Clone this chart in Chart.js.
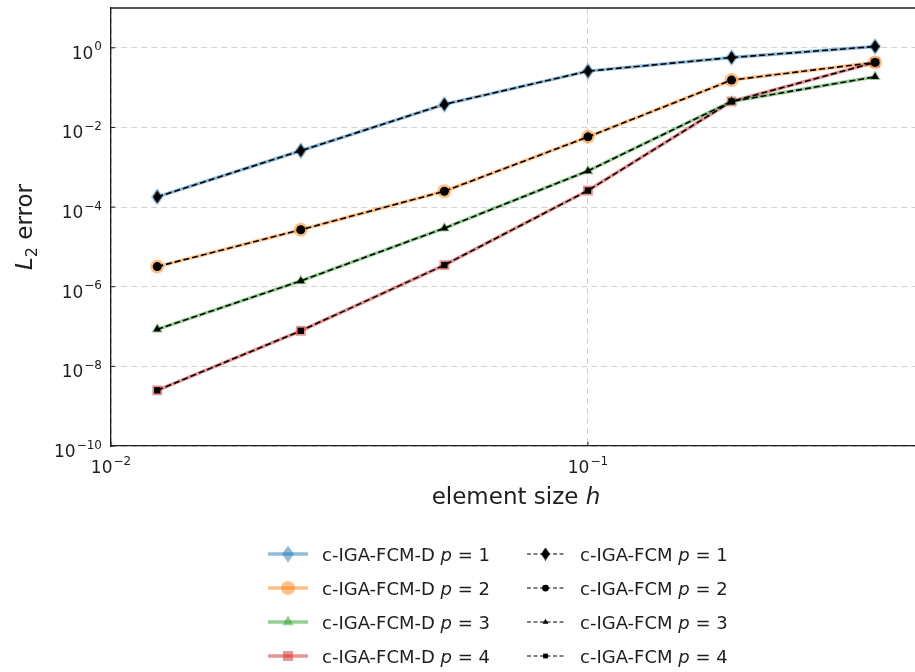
<!DOCTYPE html>
<html>
<head>
<meta charset="utf-8">
<script src="https://cdn.jsdelivr.net/npm/chart.js@4"></script>
<style>
  body { margin: 0; background: #fff; }
  #wrap { width: 915px; height: 672px; position: relative; }
</style>
</head>
<body>
<div id="wrap"><canvas id="chart"></canvas></div>
<script>
// element sizes h
const hVals = [0.0125, 0.025, 0.05, 0.1, 0.2, 0.4];

// c-IGA-FCM-D errors
const errD1 = [1.8e-4, 2.6e-3, 3.8e-2, 0.26, 0.57, 1.08];
const errD2 = [3.2e-6, 2.7e-5, 2.5e-4, 5.8e-3, 0.155, 0.43];
const errD3 = [8.5e-8, 1.4e-6, 2.95e-5, 8.1e-4, 0.045, 0.187];
const errD4 = [2.5e-9, 7.8e-8, 3.5e-6, 2.6e-4, 0.045, 0.43];

// c-IGA-FCM errors
const errC1 = [1.8e-4, 2.6e-3, 3.8e-2, 0.26, 0.57, 1.08];
const errC2 = [3.2e-6, 2.7e-5, 2.5e-4, 5.8e-3, 0.155, 0.43];
const errC3 = [8.5e-8, 1.4e-6, 2.95e-5, 8.1e-4, 0.045, 0.187];
const errC4 = [2.5e-9, 7.8e-8, 3.5e-6, 2.6e-4, 0.045, 0.43];

const degrees = [1, 2, 3, 4];
const xTickExps = [-2, -1];
const yTickExps = [-10, -8, -6, -4, -2, 0];

const FONT = "'DejaVu Sans', sans-serif";
const INK = "#1e1e1e";
const colors = ["31,119,180", "255,127,14", "44,160,44", "214,39,40"];

function thinDiamond(w, h, color) {
    const c = document.createElement("canvas");
    c.width = w; c.height = h;
    const g = c.getContext("2d");
    g.fillStyle = color;
    g.beginPath();
    g.moveTo(w / 2, 0); g.lineTo(w, h / 2); g.lineTo(w / 2, h); g.lineTo(0, h / 2);
    g.closePath();
    g.fill();
    return c;
}

const dStyles = [thinDiamond(12, 17, "rgba(31,119,180,0.5)"), "circle", "triangle", "rect"];
const cStyles = [thinDiamond(9, 13, "#000"), "circle", "triangle", "rect"];
const dRadius = [6, 7, 6.5, 7];
const cRadius = [5, 4.5, 4.5, 4.5];

const toPts = ys => hVals.map((x, i) => ({ x: x, y: ys[i] }));
const dSeries = [errD1, errD2, errD3, errD4];
const cSeries = [errC1, errC2, errC3, errC4];

const datasets = [];
dSeries.forEach((ys, i) => {
    const col = "rgba(" + colors[i] + ",0.5)";
    datasets.push({
        label: "c-IGA-FCM-D p=" + degrees[i],
        data: toPts(ys),
        borderColor: col,
        backgroundColor: col,
        borderWidth: 3.5,
        pointStyle: dStyles[i],
        pointRadius: dRadius[i],
        pointBackgroundColor: col,
        pointBorderWidth: 0,
        order: 1
    });
});
cSeries.forEach((ys, i) => {
    datasets.push({
        label: "c-IGA-FCM p=" + degrees[i],
        data: toPts(ys),
        borderColor: "#000",
        backgroundColor: "#000",
        borderWidth: 1.6,
        borderDash: [6, 3],
        pointStyle: cStyles[i],
        pointRadius: cRadius[i],
        pointBackgroundColor: "#000",
        pointBorderWidth: 0,
        order: 0
    });
});

// "10" with a raised exponent
function drawPow(ctx, exp, x, y, align) {
    const base = "10", sup = (exp < 0 ? "\u2212" : "") + Math.abs(exp);
    ctx.font = "17px " + FONT;
    const wb = ctx.measureText(base).width;
    ctx.font = "12px " + FONT;
    const ws = ctx.measureText(sup).width;
    const total = wb + ws + 1;
    let x0 = align === "right" ? x - total : x - total / 2;
    ctx.textAlign = "left";
    ctx.textBaseline = "alphabetic";
    ctx.font = "17px " + FONT;
    ctx.fillText(base, x0, y);
    ctx.font = "12px " + FONT;
    ctx.fillText(sup, x0 + wb + 1, y - 8.5);
}

// sequence of text pieces on one baseline (italic / subscript)
function drawRich(ctx, parts, x, y, size) {
    let cx = x;
    ctx.textAlign = "left";
    ctx.textBaseline = "alphabetic";
    parts.forEach(p => {
        const sz = p.sub ? size * 0.7 : size;
        ctx.font = (p.it ? "italic " : "") + sz + "px " + FONT;
        ctx.fillText(p.t, cx, y + (p.sub ? size * 0.22 : 0));
        cx += ctx.measureText(p.t).width;
    });
    return cx - x;
}
function richWidth(ctx, parts, size) {
    let w = 0;
    parts.forEach(p => {
        const sz = p.sub ? size * 0.7 : size;
        ctx.font = (p.it ? "italic " : "") + sz + "px " + FONT;
        w += ctx.measureText(p.t).width;
    });
    return w;
}

const decor = {
    id: "decor",
    afterDraw(chart) {
        const ctx = chart.ctx, a = chart.chartArea;
        const xs = chart.scales.x, ys = chart.scales.y;
        ctx.save();
        ctx.fillStyle = INK;
        ctx.strokeStyle = INK;

        // top spine
        ctx.lineWidth = 1.3;
        ctx.beginPath(); ctx.moveTo(a.left, a.top); ctx.lineTo(a.right, a.top); ctx.stroke();

        // inward ticks and labels
        ctx.lineWidth = 1;
        yTickExps.forEach(e => {
            const py = ys.getPixelForValue(Math.pow(10, e));
            ctx.beginPath(); ctx.moveTo(a.left, py); ctx.lineTo(a.left + 4, py); ctx.stroke();
            drawPow(ctx, e, a.left - 9, py + 11, "right");
        });
        xTickExps.forEach(e => {
            const px = xs.getPixelForValue(Math.pow(10, e));
            ctx.beginPath(); ctx.moveTo(px, a.bottom); ctx.lineTo(px, a.bottom - 4); ctx.stroke();
            drawPow(ctx, e, px, a.bottom + 27, "center");
        });

        // axis titles
        const xt = [{ t: "element size " }, { t: "h", it: true }];
        const xw = richWidth(ctx, xt, 23);
        drawRich(ctx, xt, 516 - xw / 2, 504, 23);

        const yt = [{ t: "L", it: true }, { t: "2", sub: true }, { t: " error" }];
        const yw = richWidth(ctx, yt, 23);
        ctx.save();
        ctx.translate(32, (a.top + a.bottom) / 2);
        ctx.rotate(-Math.PI / 2);
        drawRich(ctx, yt, -yw / 2, 0, 23);
        ctx.restore();

        // legend, two columns
        const rowY = [554, 588, 622, 656];
        degrees.forEach((p, i) => {
            const y = rowY[i];
            const dset = chart.data.datasets[i];
            const cset = chart.data.datasets[i + 4];

            ctx.save();
            ctx.strokeStyle = dset.borderColor;
            ctx.lineWidth = 3.5;
            ctx.beginPath(); ctx.moveTo(268, y); ctx.lineTo(308, y); ctx.stroke();
            ctx.fillStyle = dset.pointBackgroundColor;
            Chart.helpers.drawPoint(ctx, { pointStyle: dset.pointStyle, radius: dset.pointRadius, borderWidth: 0, rotation: 0 }, 288, y);
            ctx.restore();

            ctx.save();
            ctx.strokeStyle = "#000";
            ctx.lineWidth = 1;
            ctx.setLineDash([4, 2.5]);
            ctx.beginPath(); ctx.moveTo(527, y); ctx.lineTo(564, y); ctx.stroke();
            ctx.setLineDash([]);
            ctx.fillStyle = "#000";
            Chart.helpers.drawPoint(ctx, { pointStyle: cset.pointStyle, radius: cset.pointRadius * 0.75, borderWidth: 0, rotation: 0 }, 545.5, y);
            ctx.restore();

            const tail = [{ t: "p", it: true }, { t: " = " + p }];
            drawRich(ctx, [{ t: "c-IGA-FCM-D " }].concat(tail), 322, y + 6.5, 18);
            drawRich(ctx, [{ t: "c-IGA-FCM " }].concat(tail), 580, y + 6.5, 18);
        });
        ctx.restore();
    }
};

const gridDash = { color: "rgba(190,190,190,0.7)", lineWidth: 1, drawTicks: false };

new Chart(document.getElementById("chart"), {
    type: "line",
    data: { datasets: datasets },
    options: {
        responsive: true,
        maintainAspectRatio: false,
        animation: false,
        layout: { autoPadding: false, padding: { left: 111, right: 0, top: 8, bottom: 226 } },
        plugins: { legend: { display: false }, tooltip: { enabled: false } },
        scales: {
            x: {
                type: "logarithmic",
                min: 0.01,
                max: 0.485,
                afterBuildTicks: s => { s.ticks = xTickExps.map(e => ({ value: Math.pow(10, e) })); },
                ticks: { display: false },
                grid: gridDash,
                border: { color: INK, width: 1.3, dash: [6, 4] }
            },
            y: {
                type: "logarithmic",
                min: 1e-10,
                max: 10,
                afterBuildTicks: s => { s.ticks = yTickExps.map(e => ({ value: Math.pow(10, e) })); },
                ticks: { display: false },
                grid: gridDash,
                border: { color: INK, width: 1.3, dash: [6, 4] }
            }
        }
    },
    plugins: [decor]
});
</script>
</body>
</html>
